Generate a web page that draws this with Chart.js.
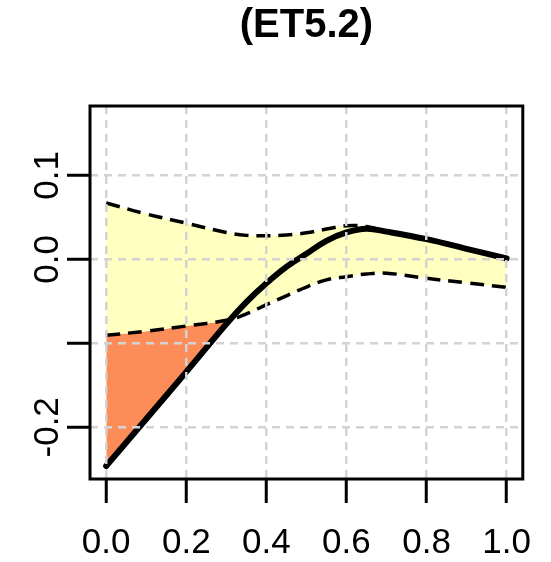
<!DOCTYPE html>
<html>
<head>
<meta charset="utf-8">
<script src="https://cdn.jsdelivr.net/npm/chart.js@4"></script>
<style>
  body { margin: 0; background: #fff; }
  #wrap { width: 551px; height: 562px; }
</style>
</head>
<body>
<div id="wrap"><canvas id="etChart" width="551" height="562"></canvas></div>
<script>
// values
const xs       = [0, 0.1, 0.2, 0.3, 0.35, 0.4, 0.45, 0.5, 0.55, 0.6, 0.65, 0.7, 0.8, 0.9, 1.0];
const estimate = [-0.246, -0.190, -0.134, -0.077, -0.051, -0.0286, -0.009, 0.0065, 0.022, 0.032, 0.0365, 0.033, 0.024, 0.0125, 0.001];
const upperCI  = [0.067, 0.054, 0.043, 0.032, 0.0285, 0.028, 0.029, 0.0315, 0.036, 0.040, 0.039, 0.033, 0.024, 0.0125, 0.001];
const lowerCI  = [-0.0905, -0.0855, -0.0794, -0.0725, -0.065, -0.054, -0.0435, -0.033, -0.0245, -0.0207, -0.0175, -0.0165, -0.0226, -0.028, -0.0333];

const xTickLabels = ['0.0', '0.2', '0.4', '0.6', '0.8', '1.0'];
const yLabelValues = [-0.2, 0.0, 0.1];
const yTickLabels = ['-0.2', '0.0', '0.1'];
const titleText = '(ET5.2)';

const FONT = '"Liberation Sans", Arial, Helvetica, sans-serif';

function toPoints(vals) {
    return xs.map((x, i) => ({ x: x, y: vals[i] }));
}

// frame around the plot region
const boxPlugin = {
    id: 'box',
    afterDraw(chart) {
        const a = chart.chartArea;
        const ctx = chart.ctx;
        ctx.save();
        ctx.strokeStyle = '#000';
        ctx.lineWidth = 3;
        ctx.strokeRect(a.left, a.top, a.right - a.left, a.bottom - a.top);
        ctx.restore();
    }
};

// y labels are vertical in the reference, chart.js can't rotate them
const yLabelPlugin = {
    id: 'yLabels',
    afterDraw(chart) {
        const ctx = chart.ctx;
        const y = chart.scales.y;
        ctx.save();
        ctx.fillStyle = '#000';
        ctx.font = '35px ' + FONT;
        ctx.textAlign = 'center';
        ctx.textBaseline = 'alphabetic';
        yLabelValues.forEach((v, i) => {
            ctx.save();
            ctx.translate(58, y.getPixelForValue(v));
            ctx.rotate(-Math.PI / 2);
            ctx.fillText(yTickLabels[i], 0, 0);
            ctx.restore();
        });
        ctx.restore();
    }
};

// grid drawn on top of the fills (z: 1), ticks solid black
const gridStyle = {
    z: 1,
    color: '#d3d3d3',
    lineWidth: 2.5,
    drawTicks: true,
    tickColor: '#000',
    tickWidth: 3,
    tickBorderDash: []
};

new Chart(document.getElementById('etChart'), {
    type: 'line',
    data: {
        datasets: [{
            label: 'upper',
            data: toPoints(upperCI),
            borderColor: '#000',
            borderWidth: 3.5,
            borderDash: [14, 8],
            backgroundColor: '#ffffbf',
            fill: '+1',
            pointRadius: 0,
            tension: 0.4
        }, {
            label: 'lower',
            data: toPoints(lowerCI),
            borderColor: '#000',
            borderWidth: 3.5,
            borderDash: [14, 8],
            fill: { target: '+1', above: '#fc8d59', below: 'rgba(0,0,0,0)' },
            pointRadius: 0,
            tension: 0.4
        }, {
            label: 'estimate',
            data: toPoints(estimate),
            borderColor: '#000',
            borderWidth: 6,
            borderCapStyle: 'round',
            fill: false,
            pointRadius: 0,
            tension: 0.4
        }]
    },
    options: {
        responsive: false,
        animation: false,
        layout: { padding: { left: 0, right: 24, top: 0, bottom: 0 } },
        plugins: {
            legend: { display: false },
            tooltip: { enabled: false },
            filler: { drawTime: 'beforeDatasetsDraw' },
            title: {
                display: true,
                text: titleText,
                fullSize: false,
                color: '#000',
                font: { family: FONT, size: 40, weight: 'bold' },
                padding: { top: 2, bottom: 56 }
            }
        },
        scales: {
            x: {
                type: 'linear',
                min: -0.0404,
                max: 1.0404,
                afterFit: s => { s.height = 83; },
                border: { display: false, dash: [8, 6] },
                grid: Object.assign({}, gridStyle, { tickLength: 24 }),
                ticks: {
                    stepSize: 0.2,
                    includeBounds: false,
                    padding: 19,
                    color: '#000',
                    maxRotation: 0,
                    font: { family: FONT, size: 35 },
                    callback: (v, i) => xTickLabels[i]
                }
            },
            y: {
                type: 'linear',
                min: -0.2615,
                max: 0.1825,
                afterFit: s => { s.width = 90; },
                border: { display: false, dash: [8, 6] },
                grid: Object.assign({}, gridStyle, { tickLength: 23 }),
                ticks: {
                    stepSize: 0.1,
                    includeBounds: false,
                    display: false
                }
            }
        }
    },
    plugins: [boxPlugin, yLabelPlugin]
});
</script>
</body>
</html>
